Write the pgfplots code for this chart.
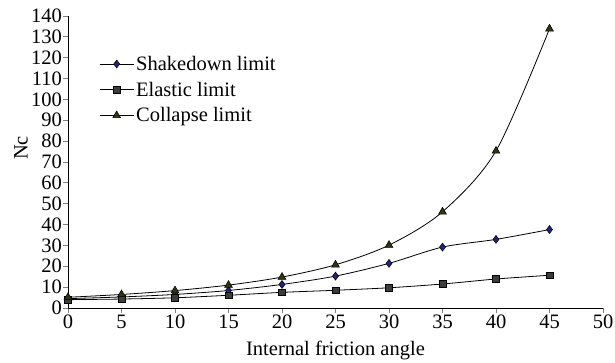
\documentclass[border=0pt]{standalone}
\usepackage{fontspec}
\setmainfont{Liberation Serif}
\usepackage{pgfplots}
\pgfplotsset{compat=1.18}
\definecolor{shk}{RGB}{35,35,120}
\definecolor{ela}{RGB}{60,60,60}
\definecolor{col}{RGB}{50,50,20}
\newcommand{\tfont}{\fontsize{20.5}{22}\selectfont}
\begin{document}
\begin{tikzpicture}
\begin{axis}[
  name=ax,
  scale only axis,
  width=535pt, height=292pt,
  xmin=0, xmax=50, ymin=0, ymax=140,
  axis lines=left,
  axis line style={-, line width=0.8pt},
  xtick={0,5,...,50},
  ytick={0,10,...,140},
  major tick length=5pt,
  tick style={line width=0.8pt},
  xtick align=outside,
  ytick align=outside,
  xticklabel={\tfont\pgfmathprintnumber[assume math mode=true]{\tick}},
  yticklabel={\tfont\pgfmathprintnumber[assume math mode=true]{\tick}},
  yticklabel style={inner sep=1pt},
  xticklabel style={inner sep=2pt},
  xlabel={\tfont Internal friction angle},
  ylabel={\tfont Nc},
  every axis x label/.style={at={(axis description cs:0.5,0)}, anchor=center, yshift=-42pt},
  every axis y label/.style={at={(axis description cs:0,0.548)}, anchor=center, xshift=-47pt, rotate=90},
  legend style={draw=none, fill=none, at={(0.058,0.87)}, anchor=north west,
    font=\tfont, row sep=6pt, inner sep=0pt},
  legend cell align=left,
  legend image code/.code={
    \draw[mark repeat=2, mark phase=2, #1] plot coordinates {(0cm,0cm) (0.6cm,0cm) (1.2cm,0cm)};
  },
]
\addplot[black, line width=0.8pt, smooth, tension=0.5, mark=diamond*, mark size=4pt,
  mark options={fill=shk, draw=black, line width=0.5pt}]
  coordinates {(0,4.5) (5,5.3) (10,6.5) (15,8.4) (20,11.3) (25,15.3) (30,21.4) (35,29.2) (40,32.9) (45,37.6)};
\addlegendentry{Shakedown limit}
\addplot[black, line width=0.8pt, smooth, tension=0.5, mark=square*, mark size=3.3pt,
  mark options={fill=ela, draw=black, line width=0.5pt}]
  coordinates {(0,4.0) (5,4.3) (10,4.9) (15,6.1) (20,7.5) (25,8.5) (30,9.7) (35,11.5) (40,13.9) (45,15.7)};
\addlegendentry{Elastic limit}
\addplot[black, line width=0.8pt, smooth, tension=0.5, mark=triangle*, mark size=4.5pt,
  mark options={fill=col, draw=black, line width=0.5pt}]
  coordinates {(0,5.14) (5,6.49) (10,8.35) (15,10.98) (20,14.83) (25,20.72) (30,30.14) (35,46.12) (40,75.31) (45,133.88)};
\addlegendentry{Collapse limit}
\end{axis}
\pgfresetboundingbox
\path ([xshift=-68pt,yshift=16pt]ax.north west) rectangle ([xshift=12pt,yshift=-55pt]ax.south east);
\end{tikzpicture}
\end{document}
